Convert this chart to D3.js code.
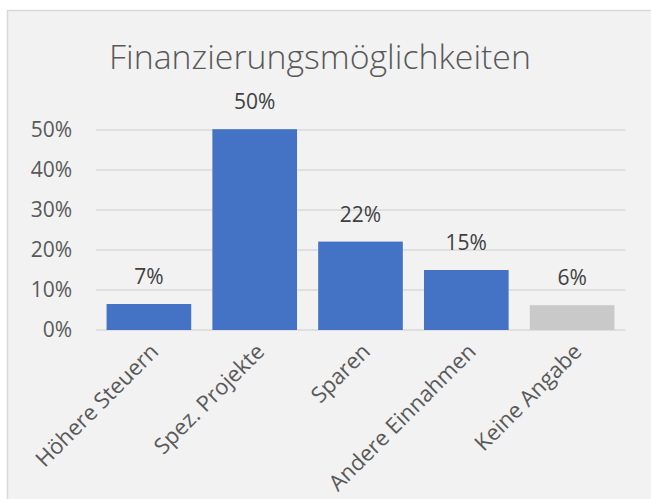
<!DOCTYPE html>
<html>
<head>
<meta charset="utf-8">
<script src="https://d3js.org/d3.v7.min.js"></script>
<style>
  body { margin: 0; background: #fff; }
  text { font-family: "Open Sans", "Noto Sans", sans-serif; }
</style>
</head>
<body>
<svg id="chart" width="651" height="499"></svg>
<script>
// data
var categories = ["Höhere Steuern", "Spez. Projekte", "Sparen", "Andere Einnahmen", "Keine Angabe"];
var values = [0.065, 0.502, 0.221, 0.15, 0.062];
var valueLabels = ["7%", "50%", "22%", "15%", "6%"];
var barColors = ["#4472c4", "#4472c4", "#4472c4", "#4472c4", "#c9c9c9"];
var yTicks = [0, 0.1, 0.2, 0.3, 0.4, 0.5];
var title = "Finanzierungsmöglichkeiten";

var svg = d3.select("#chart");

// chart area frame
svg.append("rect")
    .attr("x", 7.5).attr("y", 10.5)
    .attr("width", 700).attr("height", 600)
    .attr("fill", "#f2f2f2")
    .attr("stroke", "#d9d9d9")
    .attr("stroke-width", 1.5);

var x = d3.scaleBand()
    .domain(categories)
    .range([96, 625])
    .paddingInner(0.2)
    .paddingOuter(0.1);

var y = d3.scaleLinear()
    .domain([0, 0.5])
    .range([330, 130]);

// gridlines
svg.append("g")
    .selectAll("line")
    .data(yTicks)
    .enter().append("line")
    .attr("x1", 96).attr("x2", 625)
    .attr("y1", function(d) { return y(d); })
    .attr("y2", function(d) { return y(d); })
    .attr("stroke", "#d9d9d9")
    .attr("stroke-width", 1.5);

// y axis labels
var yAxis = d3.axisLeft(y)
    .tickValues(yTicks)
    .tickFormat(d3.format(".0%"))
    .tickSize(0)
    .tickPadding(24);

var gy = svg.append("g")
    .attr("transform", "translate(96,0)")
    .call(yAxis);
gy.select(".domain").remove();
gy.selectAll("text")
    .attr("fill", "#595959")
    .style("font-size", "21px")
    .style("font-family", "'Open Sans', sans-serif");

// bars
svg.append("g")
    .selectAll("rect")
    .data(values)
    .enter().append("rect")
    .attr("x", function(d, i) { return x(categories[i]); })
    .attr("y", function(d) { return y(d); })
    .attr("width", x.bandwidth())
    .attr("height", function(d) { return y(0) - y(d); })
    .attr("fill", function(d, i) { return barColors[i]; });

// value labels
svg.append("g")
    .selectAll("text")
    .data(values)
    .enter().append("text")
    .attr("x", function(d, i) { return x(categories[i]) + x.bandwidth() / 2; })
    .attr("y", function(d) { return y(d) - 20; })
    .attr("text-anchor", "middle")
    .attr("fill", "#404040")
    .style("font-size", "21px")
    .text(function(d, i) { return valueLabels[i]; });

// x axis
var xAxis = d3.axisBottom(x).tickSize(0).tickPadding(0);
var gx = svg.append("g")
    .attr("transform", "translate(0,330)")
    .call(xAxis);
gx.select(".domain").remove();
gx.selectAll("text")
    .attr("fill", "#595959")
    .style("font-size", "22px")
    .style("font-family", "'Open Sans', sans-serif")
    .attr("text-anchor", "end")
    .attr("dy", null)
    .attr("y", 0)
    .attr("transform", "translate(11,23) rotate(-45)");

// title, fitted to the reference width
var t = svg.append("text")
    .attr("x", 320)
    .attr("y", 69)
    .attr("text-anchor", "middle")
    .attr("fill", "#595959")
    .style("font-weight", 300)
    .style("font-size", "30px")
    .text(title);
var w = t.node().getComputedTextLength();
t.style("font-size", (30 * 422 / w) + "px");
</script>
</body>
</html>
